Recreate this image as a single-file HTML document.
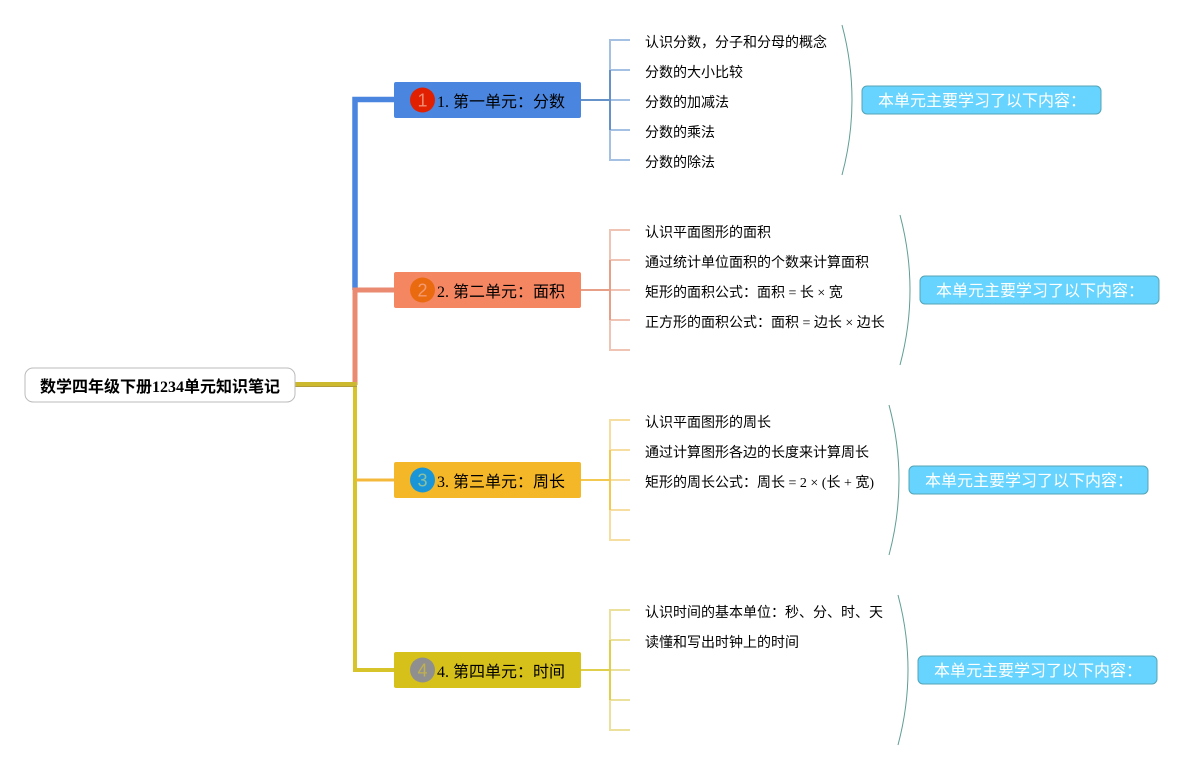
<!DOCTYPE html>
<html><head><meta charset="utf-8"><style>
html,body{margin:0;padding:0;background:#fff;width:1204px;height:770px;overflow:hidden}
svg{display:block}
text{font-family:"Liberation Serif","WenQuanYi Zen Hei","Noto Sans CJK SC",serif;fill:#000}
.l{font-size:14px}.b{font-size:16px}
.s{font-size:16px;fill:#fff}
.n{font-family:"Liberation Sans",sans-serif;font-size:18px;text-anchor:middle}
</style></head><body>
<svg width="1204" height="770" viewBox="0 0 1204 770" xmlns="http://www.w3.org/2000/svg">
<!-- trunk -->
<path d="M394 99.500H355V290" fill="none" stroke="#4a86e0" stroke-width="5.500"/>
<path d="M394 290H355V385" fill="none" stroke="#ea8a70" stroke-width="5"/>
<path d="M355 385V670H394" fill="none" stroke="#d6c42a" stroke-width="4"/>
<path d="M356 480H394" fill="none" stroke="#f4b93a" stroke-width="3"/>
<rect x="295" y="382" width="62" height="5" fill="#cdb92e"/>
<rect x="295" y="386" width="62" height="1" fill="#b09c38"/>
<!-- root -->
<rect x="25" y="368" width="270" height="34" rx="8" fill="#fff" stroke="#bbb"/>
<text x="40" y="392" font-size="16" font-weight="bold">数学四年级下册1234单元知识笔记</text>

<!-- unit 1 -->
<g fill="none" stroke="#a4c0e2" stroke-width="2"><path d="M630 40H610V160H630M610 70H630M610 100H630M610 130H630"/></g>
<path d="M581 100H610V70M610 100V130" fill="none" stroke="#6592c8" stroke-width="2"/>
<rect x="394" y="82" width="187" height="36" rx="2" fill="#4a86e0"/>
<circle cx="422.500" cy="100" r="12.500" fill="#e02000"/>
<text class="n" x="422.500" y="106.500" style="fill:#f08a70">1</text>
<text class="b" x="437" y="107">1. 第一单元：分数</text>
<text class="l" x="645" y="47">认识分数，分子和分母的概念</text>
<text class="l" x="645" y="77">分数的大小比较</text>
<text class="l" x="645" y="107">分数的加减法</text>
<text class="l" x="645" y="137">分数的乘法</text>
<text class="l" x="645" y="167">分数的除法</text>
<path d="M842 25Q862 100 842 175" fill="none" stroke="#5f9e92" stroke-width="1"/>
<rect x="862" y="86" width="239" height="28" rx="5" fill="#66d4ff" stroke="#55a5b5"/>
<text class="s" x="878" y="106">本单元主要学习了以下内容：</text>

<!-- unit 2 -->
<g fill="none" stroke="#f0c4b4" stroke-width="2"><path d="M630 230H610V350H630M610 260H630M610 290H630M610 320H630"/></g>
<path d="M581 290H610V260M610 290V320" fill="none" stroke="#e89f88" stroke-width="2"/>
<rect x="394" y="272" width="187" height="36" rx="2" fill="#f48662"/>
<circle cx="422.500" cy="290" r="12.500" fill="#ea6a10"/>
<text class="n" x="422.500" y="296.500" style="fill:#f59a70">2</text>
<text class="b" x="437" y="297">2. 第二单元：面积</text>
<text class="l" x="645" y="237">认识平面图形的面积</text>
<text class="l" x="645" y="267">通过统计单位面积的个数来计算面积</text>
<text class="l" x="645" y="297">矩形的面积公式：面积 = 长 × 宽</text>
<text class="l" x="645" y="327">正方形的面积公式：面积 = 边长 × 边长</text>
<path d="M900 215Q920 290 900 365" fill="none" stroke="#5f9e92" stroke-width="1"/>
<rect x="920" y="276" width="239" height="28" rx="5" fill="#66d4ff" stroke="#55a5b5"/>
<text class="s" x="936" y="296">本单元主要学习了以下内容：</text>

<!-- unit 3 -->
<g fill="none" stroke="#f6dda0" stroke-width="2"><path d="M630 420H610V540H630M610 450H630M610 480H630M610 510H630"/></g>
<path d="M581 480H610V450M610 480V510" fill="none" stroke="#f3c94f" stroke-width="2"/>
<rect x="394" y="462" width="187" height="36" rx="2" fill="#f4b728"/>
<circle cx="422.500" cy="480" r="12.500" fill="#1a96d8"/>
<text class="n" x="422.500" y="486.500" style="fill:#8cc0a0">3</text>
<text class="b" x="437" y="487">3. 第三单元：周长</text>
<text class="l" x="645" y="427">认识平面图形的周长</text>
<text class="l" x="645" y="457">通过计算图形各边的长度来计算周长</text>
<text class="l" x="645" y="487">矩形的周长公式：周长 = 2 × (长 + 宽)</text>
<path d="M889 405Q909 480 889 555" fill="none" stroke="#5f9e92" stroke-width="1"/>
<rect x="909" y="466" width="239" height="28" rx="5" fill="#66d4ff" stroke="#55a5b5"/>
<text class="s" x="925" y="486">本单元主要学习了以下内容：</text>

<!-- unit 4 -->
<g fill="none" stroke="#ebe09c" stroke-width="2"><path d="M630 610H610V730H630M610 640H630M610 670H630M610 700H630"/></g>
<path d="M581 670H610V640M610 670V700" fill="none" stroke="#e0cf4a" stroke-width="2"/>
<rect x="394" y="652" width="187" height="36" rx="2" fill="#d6c11b"/>
<circle cx="422.500" cy="670" r="12.500" fill="#8f8f8f"/>
<text class="n" x="422.500" y="676.500" style="fill:#c0b050">4</text>
<text class="b" x="437" y="677">4. 第四单元：时间</text>
<text class="l" x="645" y="617">认识时间的基本单位：秒、分、时、天</text>
<text class="l" x="645" y="647">读懂和写出时钟上的时间</text>
<path d="M898 595Q918 670 898 745" fill="none" stroke="#5f9e92" stroke-width="1"/>
<rect x="918" y="656" width="239" height="28" rx="5" fill="#66d4ff" stroke="#55a5b5"/>
<text class="s" x="934" y="676">本单元主要学习了以下内容：</text>
</svg>
</body></html>
